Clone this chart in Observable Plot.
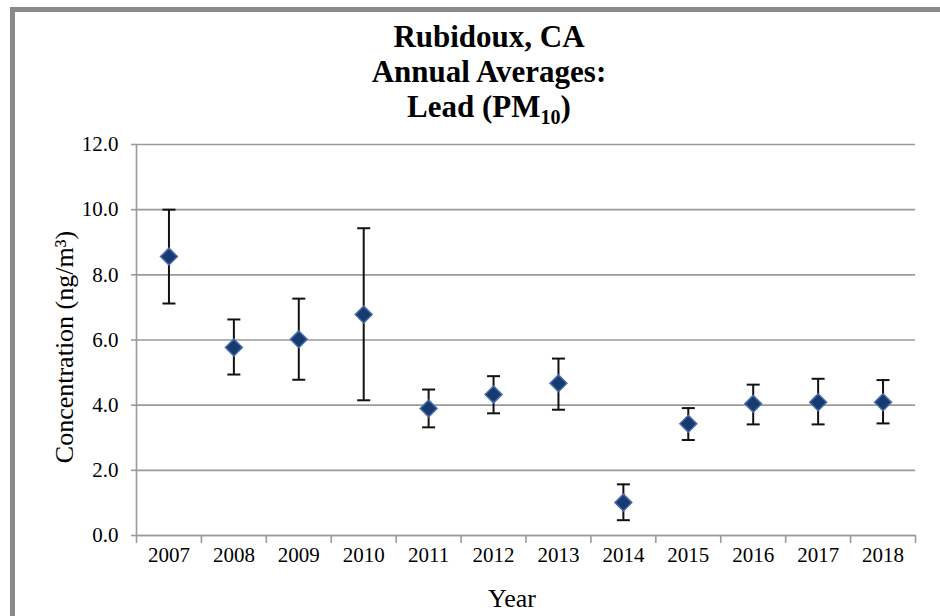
<!DOCTYPE html>
<html>
<head>
<meta charset="utf-8">
<script src="https://cdn.jsdelivr.net/npm/d3@7"></script>
<script src="https://cdn.jsdelivr.net/npm/@observablehq/plot@0.6"></script>
<style>
  html, body { margin: 0; padding: 0; background: #fff; }
  #wrap { position: relative; width: 940px; height: 616px; overflow: hidden; background: #fff; font-family: "Liberation Serif", "Times New Roman", serif; }
  #frame { position: absolute; left: 10px; top: 7px; width: 960px; height: 640px; border-left: 5px solid #8a8a8a; border-top: 5px solid #8a8a8a; box-sizing: border-box; }
  #ylab { position: absolute; left: 65px; top: 347px; transform: translate(-50%, -50%) rotate(-90deg); white-space: nowrap; font-size: 26px; color: #000; }
  #xlab { position: absolute; left: 512px; top: 586px; transform: translateX(-50%); font-size: 26px; line-height: 26px; color: #000; }
  #chart { position: absolute; left: 0; top: 0; }
</style>
</head>
<body>
<div id="wrap">
  <div id="frame"></div>
  <div id="chart"></div>
  <div id="ylab">Concentration (ng/m³)</div>
  <div id="xlab">Year</div>
</div>
<script>
const titleLines = ["Rubidoux, CA", "Annual Averages:", "Lead (PM"];
const titleSub = "10";
const years = [2007, 2008, 2009, 2010, 2011, 2012, 2013, 2014, 2015, 2016, 2017, 2018];
const means = [8.56, 5.77, 6.02, 6.78, 3.90, 4.33, 4.67, 1.01, 3.43, 4.04, 4.09, 4.09];
const upper = [10.0, 6.63, 7.27, 9.43, 4.48, 4.89, 5.43, 1.57, 3.91, 4.63, 4.81, 4.77];
const lower = [7.12, 4.94, 4.78, 4.15, 3.32, 3.75, 3.86, 0.47, 2.93, 3.41, 3.41, 3.44];
const yTicks = [0, 2, 4, 6, 8, 10, 12];
const xBoundaries = [2006.5, 2007.5, 2008.5, 2009.5, 2010.5, 2011.5, 2012.5, 2013.5, 2014.5, 2015.5, 2016.5, 2017.5, 2018.5];

const data = years.map((year, i) => ({year, mean: means[i], hi: upper[i], lo: lower[i]}));

const capSymbol = {
  draw(context) {
    context.moveTo(-6.5, 0);
    context.lineTo(6.5, 0);
  }
};

const gray = "#9a9a9a";

const chart = Plot.plot({
  width: 940,
  height: 616,
  marginLeft: 136,
  marginRight: 25,
  marginTop: 144,
  marginBottom: 81,
  style: { background: "transparent", fontFamily: "Liberation Serif, Times New Roman, serif", fontSize: "21px", color: "#000" },
  x: { type: "linear", domain: [2006.5, 2018.5] },
  y: { domain: [0, 12] },
  marks: [
    Plot.gridY(yTicks, { stroke: gray, strokeOpacity: 1, strokeWidth: 1.6 }),
    Plot.ruleX([2006.5], { y1: 0, y2: 12, stroke: gray, strokeWidth: 1.6 }),
    Plot.ruleY([0], { stroke: gray, strokeWidth: 1.6 }),
    Plot.axisY({ ticks: yTicks, tickFormat: d => d.toFixed(1), tickSize: 5, tickPadding: 13, stroke: gray, strokeWidth: 1.6, label: null, fontSize: 21, fill: "#000" }),
    Plot.axisX({ ticks: xBoundaries, tickFormat: () => "", tickSize: 8, stroke: gray, strokeWidth: 1.6, label: null }),
    Plot.axisX({ ticks: years, tickFormat: d => String(d), tickSize: 0, tickPadding: 12, label: null, fontSize: 21, fill: "#000" }),
    Plot.ruleX(data, { x: "year", y1: "lo", y2: "hi", stroke: "#111", strokeWidth: 2 }),
    Plot.dot(data, { x: "year", y: "hi", symbol: capSymbol, stroke: "#111", strokeWidth: 2, r: 6 }),
    Plot.dot(data, { x: "year", y: "lo", symbol: capSymbol, stroke: "#111", strokeWidth: 2, r: 6 }),
    Plot.dot(data, { x: "year", y: "mean", symbol: "diamond2", r: 7.6, fill: "#173a70", stroke: "#4a6cab", strokeWidth: 1.5 })
  ]
});

// Title drawn as SVG text inside the chart
const svg = d3.select(chart);
const title = svg.append("g")
  .attr("font-family", "'Liberation Serif', 'Times New Roman', serif")
  .attr("font-weight", "bold")
  .attr("font-size", 31)
  .attr("fill", "#000")
  .attr("text-anchor", "middle");
title.append("text").attr("x", 489).attr("y", 47).text(titleLines[0]);
title.append("text").attr("x", 489).attr("y", 82).text(titleLines[1]);
const t3 = title.append("text").attr("x", 489).attr("y", 117);
t3.append("tspan").text(titleLines[2]);
t3.append("tspan").attr("font-size", 20).attr("dy", 7).text(titleSub);
t3.append("tspan").attr("dy", -7).text(")");

document.getElementById("chart").appendChild(chart);
</script>
</body>
</html>
